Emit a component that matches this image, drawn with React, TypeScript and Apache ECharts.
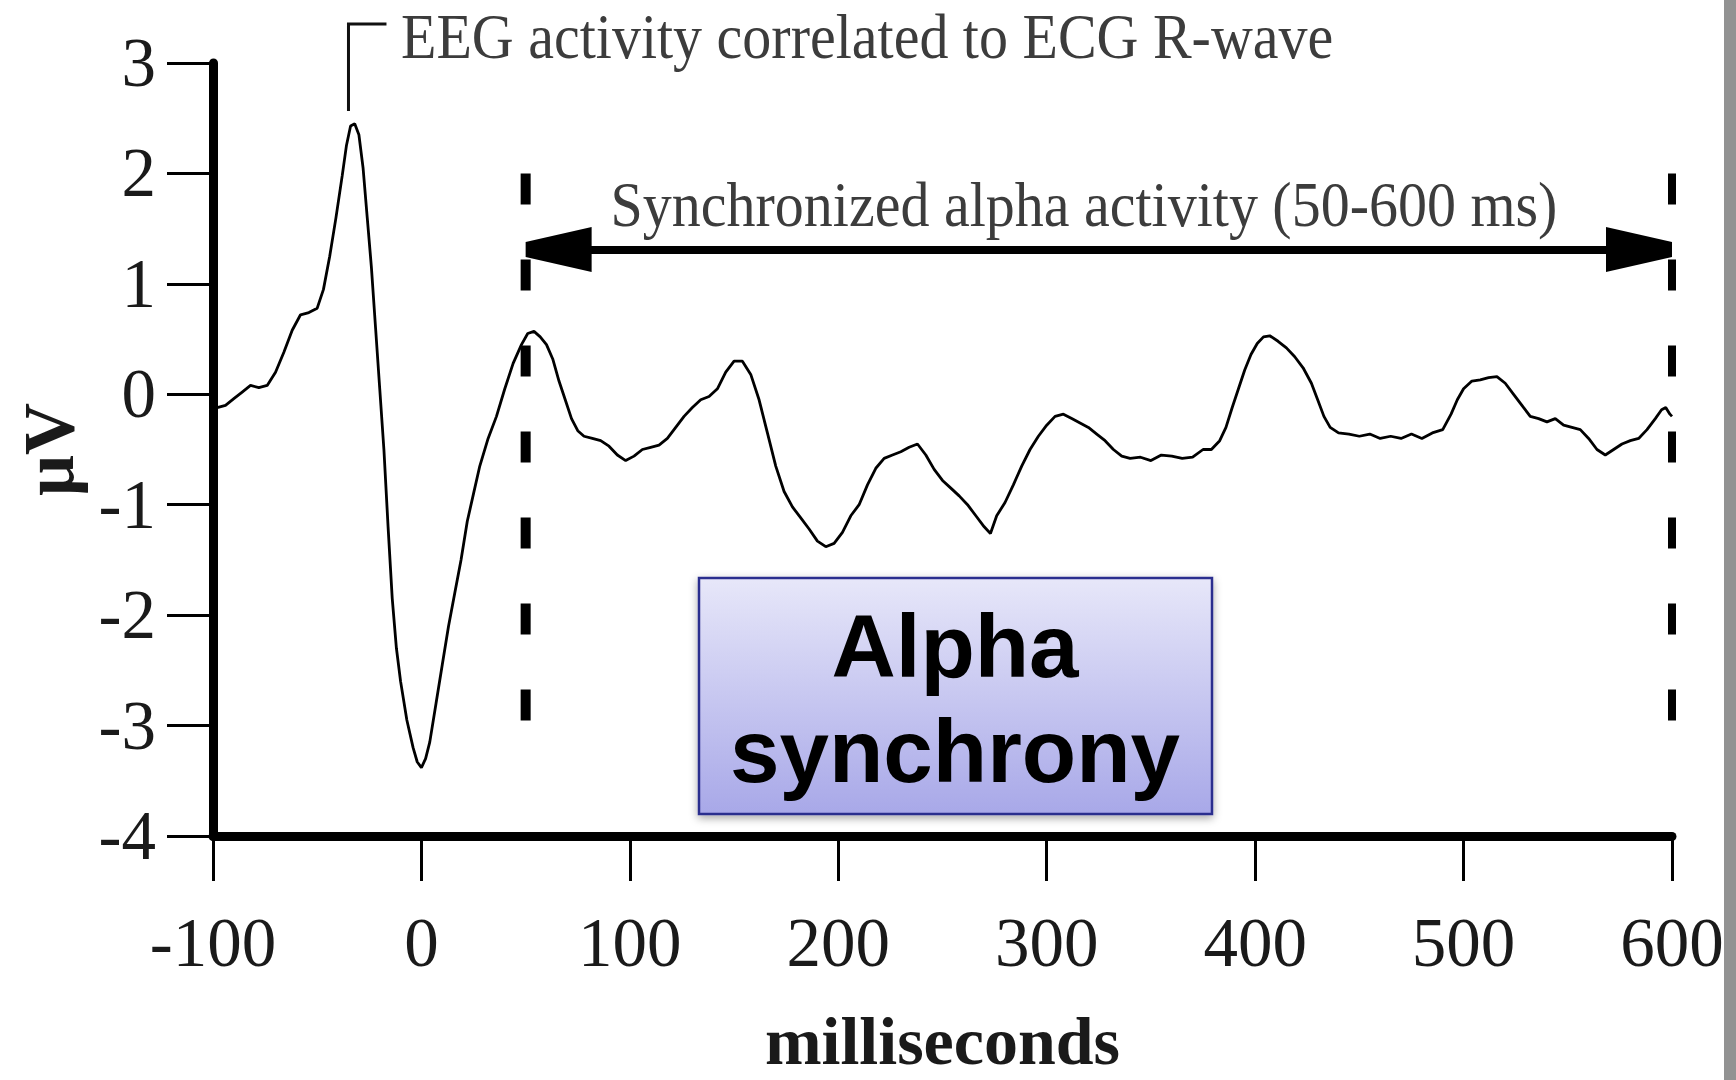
import React, { useEffect, useRef } from "react";
import * as echarts from "echarts";

const times = [-98,-94,-90,-86,-82,-78,-74,-70,-66,-62,-58,-54,-50,-47,-44,-41,-38,-36,-34,-32,-30,-28,-26,-24,-22,-20,-18,-16,-14,-12,-10,-7,-4,-2,0,2,4,7,10,13,16,19,22,25,28,32,36,40,44,48,51,54,57,60,63,66,69,72,75,78,82,86,90,94,98,102,106,110,114,118,122,126,130,134,138,142,146,150,154,158,162,166,170,174,178,182,186,190,194,198,202,206,210,214,218,222,226,230,234,238,242,246,250,254,258,262,266,270,273,276,280,284,288,292,296,300,304,308,312,316,320,324,328,332,336,340,345,350,355,360,365,370,375,379,383,386,389,392,395,398,401,404,407,411,415,419,423,427,430,433,436,440,445,450,455,460,465,470,475,480,485,490,494,497,500,504,508,512,516,520,524,528,532,536,540,544,548,552,556,560,564,568,572,576,580,584,588,592,595,597,599,600];
const eeg = [-0.12,-0.1,-0.04,0.02,0.08,0.06,0.08,0.2,0.38,0.58,0.72,0.74,0.78,0.95,1.25,1.6,1.98,2.25,2.43,2.45,2.35,2.05,1.6,1.15,0.6,0.05,-0.5,-1.2,-1.85,-2.3,-2.6,-2.95,-3.2,-3.33,-3.38,-3.3,-3.15,-2.8,-2.45,-2.1,-1.8,-1.5,-1.15,-0.9,-0.65,-0.4,-0.2,0.05,0.28,0.45,0.55,0.57,0.52,0.45,0.32,0.12,-0.05,-0.22,-0.33,-0.38,-0.4,-0.42,-0.47,-0.55,-0.6,-0.56,-0.5,-0.48,-0.46,-0.4,-0.3,-0.2,-0.12,-0.05,-0.02,0.05,0.2,0.3,0.3,0.18,-0.05,-0.35,-0.65,-0.88,-1.02,-1.12,-1.22,-1.33,-1.38,-1.35,-1.25,-1.1,-1.0,-0.82,-0.67,-0.58,-0.55,-0.52,-0.48,-0.45,-0.55,-0.68,-0.78,-0.85,-0.92,-1.0,-1.1,-1.2,-1.26,-1.1,-0.98,-0.82,-0.65,-0.5,-0.38,-0.28,-0.2,-0.18,-0.22,-0.26,-0.3,-0.36,-0.42,-0.5,-0.56,-0.58,-0.57,-0.6,-0.55,-0.56,-0.58,-0.57,-0.5,-0.5,-0.42,-0.3,-0.12,0.05,0.22,0.36,0.46,0.52,0.53,0.48,0.42,0.34,0.24,0.1,-0.05,-0.2,-0.3,-0.35,-0.36,-0.38,-0.36,-0.4,-0.38,-0.4,-0.36,-0.4,-0.35,-0.32,-0.18,-0.05,0.05,0.12,0.13,0.15,0.16,0.1,0.0,-0.1,-0.2,-0.22,-0.25,-0.22,-0.28,-0.3,-0.32,-0.4,-0.5,-0.55,-0.5,-0.45,-0.42,-0.4,-0.32,-0.22,-0.14,-0.12,-0.18,-0.2];

const xRange = [-100, 600];
const yRange = [-4, 3];
const windowStart = 50;
const windowEnd = 600;
const dashTop = 2;
const dashBottom = -3.05;
const arrowLevel = 1.31;

const G = { left: 213, right: 64, top: 63, bottom: 236 };
const W = 1736, H = 1080;
const pxPerMs = (W - G.left - G.right) / (xRange[1] - xRange[0]);
const px = (x: number) => G.left + (x - xRange[0]) * pxPerMs;

const serif = "'Liberation Serif', 'Times New Roman', serif";
const sans = "'Liberation Sans', Arial, sans-serif";
const arrowHead = "path://M15,0 L30,0 L45,66 L0,66 Z";
const arrowLen = 66;
// the symbol is centred on the line end, so pull the ends in by half a head
const arrowInset = arrowLen / 2 / pxPerMs;

export default function App() {
  const ref = useRef<HTMLDivElement>(null);
  useEffect(() => {
    if (!ref.current) return;
    const chart = echarts.init(ref.current, null, { renderer: "svg" });
    const peakX = px(-35);
    chart.setOption({
      animation: false,
      backgroundColor: "#ffffff",
      grid: { left: G.left, right: G.right, top: G.top, bottom: G.bottom },
      xAxis: {
        type: "value",
        min: xRange[0],
        max: xRange[1],
        interval: 100,
        splitLine: { show: false },
        axisLine: { onZero: false, lineStyle: { color: "#000", width: 9 } },
        axisTick: { show: true, length: 45, lineStyle: { color: "#000", width: 3 } },
        axisLabel: { margin: 72, fontSize: 69, fontFamily: serif, color: "#1a1a1a" },
        name: "milliseconds",
        nameLocation: "middle",
        nameGap: 171,
        nameTextStyle: { fontSize: 68, fontFamily: serif, fontWeight: "bold", color: "#1a1a1a" },
      },
      yAxis: {
        type: "value",
        min: yRange[0],
        max: yRange[1],
        interval: 1,
        splitLine: { show: false },
        axisLine: { show: true, onZero: false, lineStyle: { color: "#000", width: 9 } },
        axisTick: { show: true, length: 46, lineStyle: { color: "#000", width: 3 } },
        axisLabel: { margin: 57, fontSize: 69, fontFamily: serif, color: "#1a1a1a" },
        name: "μV",
        nameLocation: "middle",
        nameRotate: 90,
        nameGap: 128,
        nameTextStyle: { fontSize: 72, fontFamily: serif, fontWeight: "bold", color: "#1a1a1a" },
      },
      series: [
        {
          type: "line",
          data: times.map((t, i) => [t, eeg[i]]),
          symbol: "none",
          lineStyle: { color: "#000", width: 2.8 },
          silent: true,
          markLine: {
            silent: true,
            symbol: [arrowHead, arrowHead],
            symbolSize: [45, arrowLen],
            label: { show: false },
            lineStyle: { color: "#000", width: 8, type: "solid" },
            data: [[{ coord: [windowStart + arrowInset, arrowLevel] }, { coord: [windowEnd - arrowInset, arrowLevel] }]],
          },
        },
        {
          type: "line",
          data: [[windowStart, dashTop], [windowStart, dashBottom]],
          symbol: "none",
          silent: true,
          lineStyle: { color: "#000", width: 10, type: [31, 55] },
        },
        {
          type: "line",
          data: [[windowEnd, dashTop], [windowEnd, dashBottom]],
          symbol: "none",
          silent: true,
          lineStyle: { color: "#000", width: 8, type: [31, 55] },
        },
      ],
      graphic: [
        { type: "rect", shape: { x: 1724, y: 0, width: 12, height: H }, style: { fill: "#929292" }, silent: true },
        {
          type: "polyline",
          shape: { points: [[peakX + 38, 24], [peakX, 24], [peakX, 111]] },
          style: { stroke: "#111", lineWidth: 3, fill: null },
          silent: true,
        },
        {
          type: "text",
          x: 401,
          y: 37,
          scaleY: 1.1,
          style: { text: "EEG activity correlated to ECG R-wave", font: `58px ${serif}`, fill: "#3c3c3c", textAlign: "left", textVerticalAlign: "middle" },
          silent: true,
        },
        {
          type: "text",
          x: 1084,
          y: 205,
          scaleY: 1.1,
          style: { text: "Synchronized alpha activity (50-600 ms)", font: `58px ${serif}`, fill: "#3c3c3c", textAlign: "center", textVerticalAlign: "middle" },
          silent: true,
        },
        {
          type: "rect",
          shape: { x: 699, y: 578, width: 513, height: 236 },
          style: {
            fill: new echarts.graphic.LinearGradient(0, 0, 0, 1, [
              { offset: 0, color: "#e7e7f9" },
              { offset: 1, color: "#a8a8e8" },
            ]),
            stroke: "#2c2f8e",
            lineWidth: 2.5,
            shadowBlur: 8,
            shadowOffsetY: 3,
            shadowColor: "rgba(0,0,0,0.35)",
          },
          silent: true,
        },
        {
          type: "text",
          x: 955,
          y: 646,
          style: { text: "Alpha", font: `bold 89px ${sans}`, fill: "#000", textAlign: "center", textVerticalAlign: "middle" },
          silent: true,
        },
        {
          type: "text",
          x: 955,
          y: 751,
          style: { text: "synchrony", font: `bold 89px ${sans}`, fill: "#000", textAlign: "center", textVerticalAlign: "middle" },
          silent: true,
        },
      ],
    });
    return () => chart.dispose();
  }, []);
  return <div ref={ref} style={{ position: "absolute", left: 0, top: 0, width: W, height: H, background: "#fff" }} />;
}
